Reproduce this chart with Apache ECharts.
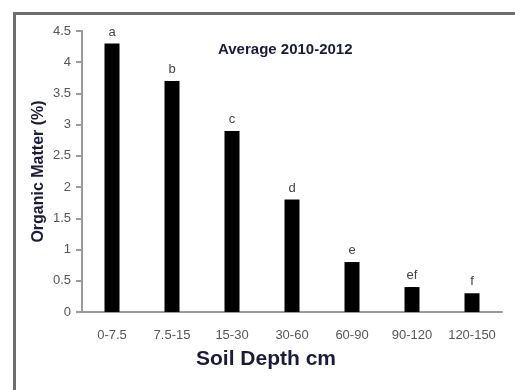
<!DOCTYPE html>
<html><head><meta charset="utf-8">
<script src="https://cdn.jsdelivr.net/npm/echarts@6/dist/echarts.min.js"></script>
<style>html,body{margin:0;padding:0;background:#fff}#c{width:515px;height:390px}</style>
</head><body><div id="c"></div>
<script>
var categories = ['0-7.5','7.5-15','15-30','30-60','60-90','90-120','120-150'];
var organicMatter = [4.3, 3.7, 2.9, 1.8, 0.8, 0.4, 0.3];
var letters = ['a','b','c','d','e','ef','f'];
var yTicks = ['0','0.5','1','1.5','2','2.5','3','3.5','4','4.5'];

var chart = echarts.init(document.getElementById('c'), null, {renderer:'canvas'});
chart.setOption({
  animation: false,
  backgroundColor: '#fff',
  graphic: [{
    type: 'rect', left: 12, top: 11, shape: {width: 520, height: 400},
    style: {fill: 'none', stroke: '#6e6e6e', lineWidth: 3}, silent: true
  }, {
    type: 'text', left: 218, top: 42,
    style: {text: 'Average 2010-2012', font: 'bold 15px "Liberation Sans", Arial', fill: '#1a1a3a'}
  }],
  grid: {left: 82, right: 13, top: 31, bottom: 78, containLabel: false},
  xAxis: {
    type: 'category', data: categories,
    axisLine: {lineStyle: {color: '#9a9a9a', width: 2}},
    axisTick: {show: false},
    axisLabel: {interval: 0, color: '#555', fontSize: 13, margin: 17, fontFamily: '"Liberation Sans Narrow", "Liberation Sans", Arial'},
    name: 'Soil Depth cm', nameLocation: 'middle', nameGap: 37,
    nameTextStyle: {color: '#1a1a3a', fontSize: 21, fontWeight: 'bold', fontFamily: '"Liberation Sans", Arial', padding: [0,52,0,0]}
  },
  yAxis: {
    type: 'value', min: 0, max: 4.5, interval: 0.5,
    axisLine: {show: true, lineStyle: {color: '#9a9a9a', width: 2}},
    axisTick: {show: true, length: 6, lineStyle: {color: '#9a9a9a', width: 2}},
    splitLine: {show: false},
    axisLabel: {color: '#555', fontSize: 13, margin: 11, fontFamily: '"Liberation Sans Narrow", "Liberation Sans", Arial',
      formatter: function(v){ var i = Math.round(v/0.5); return yTicks[i]; }},
    name: 'Organic Matter (%)', nameLocation: 'middle', nameGap: 35, nameMoveOverlap: false,
    nameTextStyle: {color: '#1a1a3a', fontSize: 16, fontWeight: 'bold', fontFamily: '"Liberation Sans", Arial'}
  },
  series: [{
    type: 'bar', data: organicMatter, barWidth: 15,
    itemStyle: {color: '#000'},
    label: {show: true, position: 'top', distance: 5, color: '#444', fontSize: 13,
      fontFamily: '"Liberation Sans", Arial',
      formatter: function(p){ return letters[p.dataIndex]; }}
  }]
});
</script></body></html>
